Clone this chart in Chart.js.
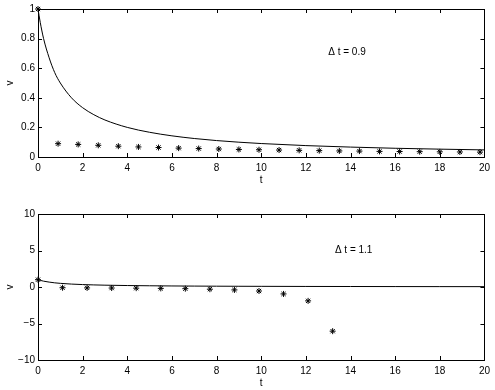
<!DOCTYPE html>
<html>
<head>
<meta charset="utf-8">
<script src="https://cdn.jsdelivr.net/npm/chart.js@4/dist/chart.umd.min.js"></script>
<style>
  body { margin: 0; background: #fff; }
  canvas { display: block; }
</style>
</head>
<body>
<canvas id="topo" width="495" height="195"></canvas>
<canvas id="baixo" width="495" height="195"></canvas>
<script>
// curva exata
const tCurva = [0, 0.1, 0.25, 0.5, 0.75, 1, 1.5, 2, 2.5, 3, 4, 5, 6, 7, 8, 9, 10, 12, 14, 16, 18, 20];
const vCurva = [1, 0.91, 0.8, 0.67, 0.57, 0.5, 0.4, 0.333, 0.286, 0.25, 0.2, 0.167, 0.143, 0.125, 0.111, 0.1, 0.091, 0.077, 0.067, 0.059, 0.053, 0.048];

// pontos com dt = 0.9
const tPassoA = [0, 0.9, 1.8, 2.7, 3.6, 4.5, 5.4, 6.3, 7.2, 8.1, 9, 9.9, 10.8, 11.7, 12.6, 13.5, 14.4, 15.3, 16.2, 17.1, 18, 18.9, 19.8];
const vPassoA = [1, 0.09, 0.085, 0.079, 0.073, 0.068, 0.064, 0.06, 0.057, 0.054, 0.051, 0.049, 0.047, 0.045, 0.043, 0.041, 0.04, 0.038, 0.037, 0.036, 0.035, 0.034, 0.033];

// pontos com dt = 1.1
const tPassoB = [0, 1.1, 2.2, 3.3, 4.4, 5.5, 6.6, 7.7, 8.8, 9.9, 11, 12.1, 13.2];
const vPassoB = [1, -0.1, -0.12, -0.14, -0.16, -0.19, -0.23, -0.3, -0.4, -0.55, -0.95, -1.9, -6.05];

// ticks dos eixos
const ticksT = [0, 2, 4, 6, 8, 10, 12, 14, 16, 18, 20];
const ticksVTopo = [0, 0.2, 0.4, 0.6, 0.8, 1];
const ticksVBaixo = [-10, -5, 0, 5, 10];

const rotulos = ['\u0394 t = 0.9', '\u0394 t = 1.1'];

const fonte = { family: 'Liberation Sans, Arial, sans-serif', size: 10 };
Chart.defaults.font = fonte;
Chart.defaults.color = '#000';

const pares = (xs, ys) => xs.map((x, i) => ({ x, y: ys[i] }));

// ticks para dentro e caixa fechada, estilo matlab
const ticksDentro = {
  id: 'ticksDentro',
  afterDraw(chart, args, opts) {
    const { ctx, chartArea: a, scales: { x, y } } = chart;
    ctx.save();
    ctx.strokeStyle = '#000';
    ctx.lineWidth = 1;
    ctx.beginPath();
    x.ticks.forEach(t => {
      const px = Math.round(x.getPixelForValue(t.value)) + 0.5;
      ctx.moveTo(px, a.bottom); ctx.lineTo(px, a.bottom - 4);
      ctx.moveTo(px, a.top); ctx.lineTo(px, a.top + 4);
    });
    y.ticks.forEach(t => {
      const py = Math.round(y.getPixelForValue(t.value)) + 0.5;
      ctx.moveTo(a.left, py); ctx.lineTo(a.left + 4, py);
      ctx.moveTo(a.right, py); ctx.lineTo(a.right - 4, py);
    });
    ctx.stroke();
    ctx.strokeRect(Math.round(a.left) + 0.5, Math.round(a.top) + 0.5,
      Math.round(a.right - a.left), Math.round(a.bottom - a.top));
    // texto do dt
    ctx.font = '10px ' + fonte.family;
    ctx.fillStyle = '#000';
    ctx.textBaseline = 'middle';
    ctx.fillText(opts.texto, x.getPixelForValue(opts.tx), y.getPixelForValue(opts.vy));
    ctx.restore();
  }
};

function criarGrafico(id, pontos, vTicks, vMin, vMax, padTopo, alturaX, padTitulo, texto, tx, vy) {
  return new Chart(document.getElementById(id), {
    type: 'scatter',
    data: {
      datasets: [
        {
          data: pares(tCurva, vCurva),
          showLine: true,
          borderColor: '#000',
          borderWidth: 1,
          pointRadius: 0,
          cubicInterpolationMode: 'monotone'
        },
        {
          data: pontos,
          pointStyle: 'star',
          pointRadius: 3,
          borderColor: '#000',
          borderWidth: 1,
          clip: false
        }
      ]
    },
    options: {
      responsive: false,
      animation: false,
      layout: { padding: { left: 0, right: 10, top: padTopo, bottom: 0 } },
      plugins: {
        legend: { display: false },
        tooltip: { enabled: false },
        ticksDentro: { texto, tx, vy }
      },
      scales: {
        x: {
          type: 'linear',
          min: 0, max: 20,
          afterBuildTicks: s => { s.ticks = ticksT.map(v => ({ value: v })); },
          afterFit: s => { s.height = alturaX; },
          grid: { display: false, drawTicks: false },
          border: { display: false },
          ticks: { padding: 5, maxRotation: 0 },
          title: { display: true, text: 't', padding: { top: 0, bottom: padTitulo } }
        },
        y: {
          type: 'linear',
          min: vMin, max: vMax,
          afterBuildTicks: s => { s.ticks = vTicks.map(v => ({ value: v })); },
          afterFit: s => { s.width = 38; },
          grid: { display: false, drawTicks: false },
          border: { display: false },
          ticks: {
            padding: 3,
            callback: v => String(v).replace('-', '\u2212')
          },
          title: { display: true, text: 'v', padding: { top: 4, bottom: 0 } }
        }
      }
    },
    plugins: [ticksDentro]
  });
}

criarGrafico('topo', pares(tPassoA, vPassoA), ticksVTopo, 0, 1, 9, 38, 9, rotulos[0], 13.0, 0.71);
criarGrafico('baixo', pares(tPassoB, vPassoB), ticksVBaixo, -10, 10, 19, 30, 1, rotulos[1], 13.3, 5);
</script>
</body>
</html>
